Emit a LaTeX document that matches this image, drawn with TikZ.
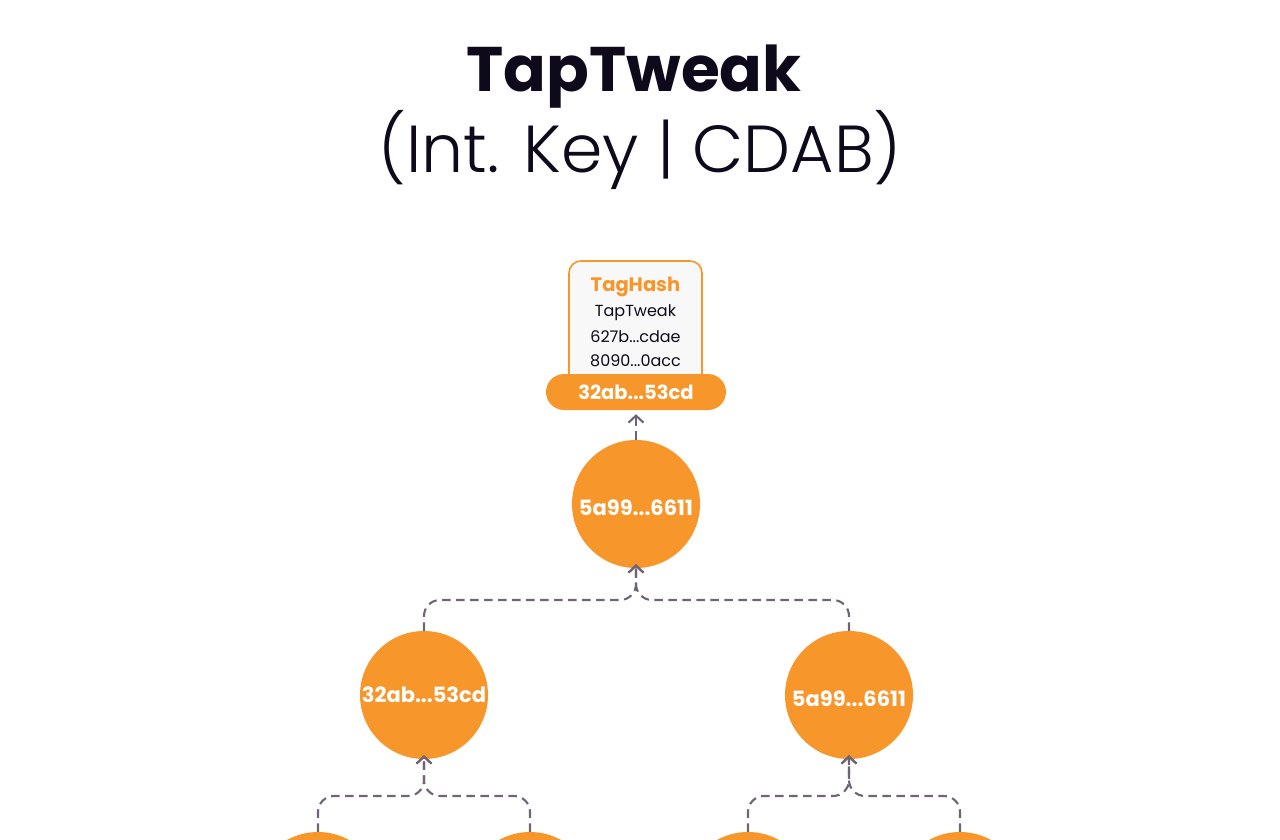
\documentclass[tikz,border=0pt]{standalone}
\usepackage{fontspec}
\setmainfont{Poppins}
\newfontfamily\lightfont{Poppins Light}
\usetikzlibrary{arrows.meta}
\definecolor{btcorange}{HTML}{F7962A}
\definecolor{titleink}{HTML}{0E0A1C}
\definecolor{linkgrey}{HTML}{6E6475}
\definecolor{boxfill}{HTML}{F8F8F8}
\tikzset{
  hashcircle/.style={circle, fill=btcorange, minimum size=128pt, inner sep=0pt, text=white, font=\fontsize{21}{24}\selectfont\bfseries},
  lowtext/.style={text height=22pt, text depth=0pt},
  link/.style={draw=linkgrey, line width=2.1pt, dash pattern=on 8.5pt off 5.5pt, rounded corners=16pt},
  linkarrow/.style={link, -{Straight Barb[length=7pt,width=15pt,line width=2.1pt]}},
}
\begin{document}
\begin{tikzpicture}[x=1pt,y=-1pt]
\useasboundingbox (0,0) rectangle (1280,840);
\clip (0,0) rectangle (1280,840);
\node[text=titleink, font=\fontsize{63}{70}\selectfont\bfseries] (title) at (634,77) {TapTweak};
\node[text=titleink, font=\fontsize{66.5}{72}\lightfont] (subtitle) at (640,150) {(Int. Key | CDAB)};

\draw[draw=btcorange, line width=1.6pt, fill=boxfill, rounded corners=12pt] (569,261) rectangle (702,392);
\node[text=btcorange, font=\fontsize{19.5}{22}\selectfont\bfseries] (taghash) at (635.5,287) {TagHash};
\node[text=titleink, font=\fontsize{16}{20}\selectfont] (tagname) at (635.5,313) {TapTweak};
\node[text=titleink, font=\fontsize{16}{20}\selectfont] (taga) at (635.5,337) {627b...cdae};
\node[text=titleink, font=\fontsize{16}{20}\selectfont] (tagb) at (635.5,361) {8090...0acc};
\node[fill=btcorange, rounded corners=18pt, minimum width=180pt, minimum height=36pt, inner sep=0pt, text=white, font=\fontsize{19.5}{22}\selectfont\bfseries] (pill) at (636,392) {32ab...53cd};

\node[hashcircle, lowtext] (root) at (636,504) {5a99...6611};
\node[hashcircle] (l) at (424,695) {32ab...53cd};
\node[hashcircle, lowtext] (r) at (849,695) {5a99...6611};
\node[hashcircle] (ll) at (318,896) {};
\node[hashcircle] (lr) at (530,896) {};
\node[hashcircle] (rl) at (748,896) {};
\node[hashcircle] (rr) at (960,896) {};

\draw[linkarrow] (root.north) -- ([yshift=-4pt]pill.south);

\coordinate (rootin) at ([yshift=4pt]root.south);
\draw[linkarrow] (l.north) |- (636,600) -- (rootin);
\draw[linkarrow] (r.north) |- (636,600) -- (rootin);

\coordinate (lin) at ([yshift=4pt]l.south);
\draw[linkarrow] (ll.north) |- (424,796) -- (lin);
\draw[linkarrow] (lr.north) |- (424,796) -- (lin);

\coordinate (rin) at ([yshift=4pt]r.south);
\draw[linkarrow] (rl.north) |- (849,796) -- (rin);
\draw[linkarrow] (rr.north) |- (849,796) -- (rin);
\end{tikzpicture}
\end{document}
